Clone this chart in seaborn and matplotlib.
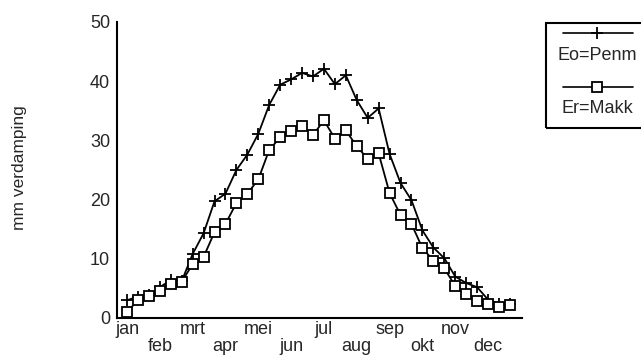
import numpy as np
import pandas as pd
import matplotlib
matplotlib.use("Agg")
import matplotlib.pyplot as plt
from matplotlib.lines import Line2D
from matplotlib.patches import Rectangle
import seaborn as sns

# 36 ten-day periods (decades) of the year
months = ["jan", "feb", "mrt", "apr", "mei", "jun",
          "jul", "aug", "sep", "okt", "nov", "dec"]
decade = list(range(36))

penman = [3.0, 3.6, 3.9, 5.2, 6.4, 6.2, 10.8, 14.3, 19.7, 21.0, 25.0, 27.6,
          31.1, 36.0, 39.4, 40.3, 41.4, 40.8, 42.1, 39.5, 41.0, 36.8, 33.8, 35.4,
          27.7, 22.8, 19.9, 14.8, 11.9, 10.1, 7.0, 5.9, 5.2, 3.1, 2.4, 2.3]
makkink = [1.0, 3.0, 3.7, 4.6, 5.7, 6.1, 9.1, 10.3, 14.5, 15.9, 19.4, 21.0,
           23.4, 28.4, 30.5, 31.6, 32.4, 30.9, 33.4, 30.3, 31.7, 29.0, 26.9, 27.8,
           21.1, 17.4, 15.9, 11.8, 9.7, 8.4, 5.4, 4.0, 2.9, 2.4, 1.9, 2.2]

label_penman = "Eo=Penm"
label_makkink = "Er=Makk"
ylabel = "mm verdamping"

sns.set_style("white")
plt.rcParams["font.family"] = ["Liberation Sans", "DejaVu Sans"]
plt.rcParams["font.size"] = 13

W, H = 641, 356
fig = plt.figure(figsize=(W / 100, H / 100), dpi=100)
ax = fig.add_axes([117 / W, 1 - 318 / H, (522 - 117) / W, (318 - 22) / H])

df_p = pd.DataFrame({"decade": decade, "value": penman})
df_m = pd.DataFrame({"decade": decade, "value": makkink})

sns.lineplot(data=df_p, x="decade", y="value", ax=ax, color="black",
             marker="+", markersize=8, mew=1.3, mec="black", lw=1.3, zorder=3)
sns.lineplot(data=df_m, x="decade", y="value", ax=ax, color="black",
             marker="s", markersize=6.5, mew=1.3, mec="black", mfc="white",
             lw=1.3, zorder=4)

ax.set_xlim(-0.91, 36.1)
ax.set_ylim(0, 50)
ax.set_yticks(range(0, 51, 10))
ax.tick_params(axis="y", direction="in", length=8, width=1.3, pad=5,
               labelsize=13)
ax.set_xticks([3 * i for i in range(12)])
ax.set_xticklabels([m if i % 2 == 0 else "\n" + m for i, m in enumerate(months)],
                   linespacing=1.05)
ax.tick_params(axis="x", length=0, pad=2, labelsize=13)
ax.set_xlabel("")
ax.set_ylabel("")
for s in ["top", "right"]:
    ax.spines[s].set_visible(False)
for s in ["left", "bottom"]:
    ax.spines[s].set_linewidth(1.5)
    ax.spines[s].set_color("black")

fig.text(20 / W, 1 - 168 / H, ylabel, rotation=90, ha="center", va="center",
         fontsize=12.5)

# legend box
def fx(px):
    return px / W

def fy(py):
    return 1 - py / H

fig.add_artist(Rectangle((fx(546), fy(128)), fx(660) - fx(546), fy(23) - fy(128),
                         transform=fig.transFigure, fill=False, lw=1.5,
                         edgecolor="black", clip_on=False))
fig.add_artist(Line2D([fx(563), fx(633)], [fy(33), fy(33)], color="black", lw=1.2,
                      transform=fig.transFigure))
fig.add_artist(Line2D([fx(597)], [fy(33)], color="black", marker="+", markersize=8,
                      mew=1.3, transform=fig.transFigure))
fig.text(fx(597), fy(55), label_penman, ha="center", va="center", fontsize=13)
fig.add_artist(Line2D([fx(563), fx(633)], [fy(87), fy(87)], color="black", lw=1.2,
                      transform=fig.transFigure))
fig.add_artist(Line2D([fx(597)], [fy(87)], color="black", marker="s", markersize=6.5,
                      mew=1.3, mfc="white", mec="black", transform=fig.transFigure))
fig.text(fx(597), fy(108), label_makkink, ha="center", va="center", fontsize=13)

fig.savefig("out.png", dpi=100, facecolor="white")
